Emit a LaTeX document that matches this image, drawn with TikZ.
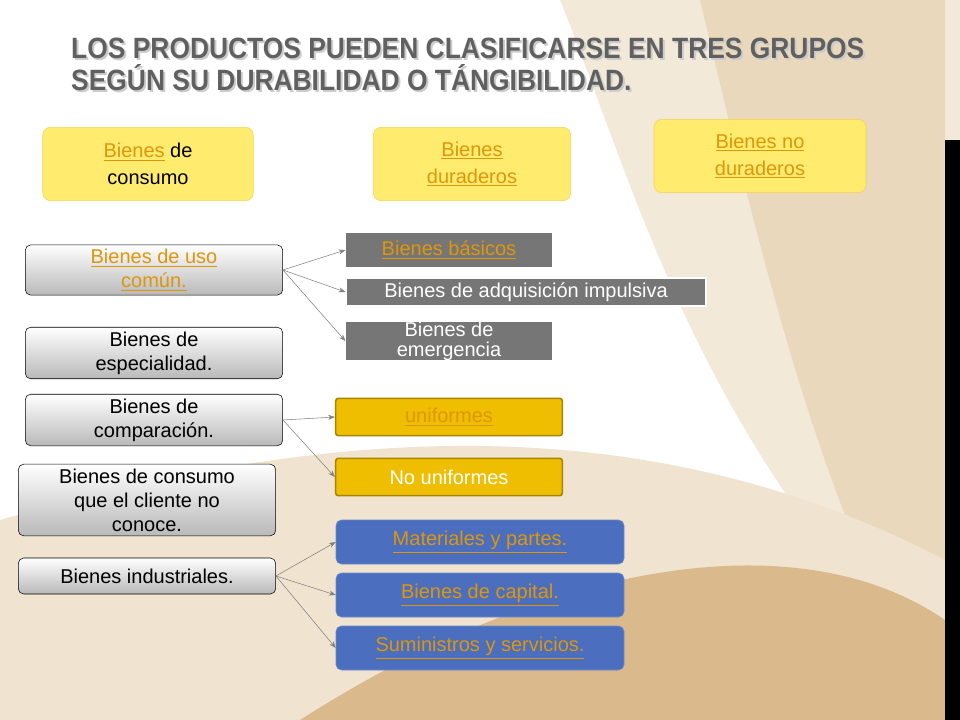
\documentclass[tikz,border=0pt]{standalone}
\usepackage{fontspec}
\setmainfont{Liberation Sans}
\usepackage{tikz}
\usetikzlibrary{positioning,arrows.meta,shadows}
\definecolor{linkc}{RGB}{222,150,10}
\definecolor{boxyel}{RGB}{255,236,110}
\definecolor{boxgold}{RGB}{240,190,0}
\definecolor{boxblue}{RGB}{75,110,190}
\definecolor{boxdark}{RGB}{118,118,118}
\definecolor{swirl}{RGB}{225,200,160}
\newcommand{\lnk}[1]{\textcolor{linkc}{\underline{#1}}}
\tikzset{
  yelbox/.style={draw=boxgold!70, fill=boxyel, rounded corners=6pt, align=center, font=\fontsize{15}{20}\selectfont},
  greybox/.style={draw=black, top color=white, bottom color=gray!55, rounded corners=4pt, align=center, font=\fontsize{15}{18}\selectfont},
  darkbox/.style={fill=boxdark, text=white, align=center, font=\fontsize{15}{18}\selectfont},
  goldbox/.style={draw=boxgold!70!black, line width=1.2pt, fill=boxgold, text=white, rounded corners=2pt, font=\fontsize{15}{18}\selectfont},
  bluebox/.style={draw=boxblue!80, fill=boxblue, rounded corners=4pt, font=\fontsize{15}{18}\selectfont},
  titletext/.style={anchor=west, align=left, xscale=0.9, font=\bfseries\fontsize{22}{24}\selectfont},
  conn/.style={gray, -{Stealth[length=5pt]}, thin}
}
\begin{document}
\begin{tikzpicture}[x=0.75pt, y=-0.75pt]
  \useasboundingbox (0,0) rectangle (960,720);
  % background swirl
  \fill[swirl!40] (560,0) .. controls (640,200) and (700,450) .. (960,700) -- (960,0) -- cycle;
  \fill[swirl!70] (700,0) .. controls (760,250) and (820,520) .. (945,720) -- (945,0) -- cycle;
  \fill[swirl!50] (0,520) .. controls (250,450) and (600,380) .. (945,560) -- (945,720) -- (0,720) -- cycle;
  \fill[swirl!80!brown] (300,720) .. controls (550,560) and (800,520) .. (945,620) -- (945,720) -- cycle;
  \fill[black] (945,140) rectangle (960,720);
  % title
  \node[titletext, text=gray!40] at (69,66) {LOS PRODUCTOS PUEDEN CLASIFICARSE EN TRES GRUPOS\\SEGÚN SU DURABILIDAD O TÁNGIBILIDAD.};
  \node[titletext, text=gray!75!black] (title) at (67,64) {LOS PRODUCTOS PUEDEN CLASIFICARSE EN TRES GRUPOS\\SEGÚN SU DURABILIDAD O TÁNGIBILIDAD.};
  % top group
  \node[yelbox, minimum width=158pt, minimum height=55pt] (consumo) at (148,164) {\lnk{Bienes} de\\consumo};
  \node[yelbox, minimum width=148pt, minimum height=55pt] (duraderos) at (472,164) {\lnk{Bienes}\\\lnk{duraderos}};
  \node[yelbox, minimum width=159pt, minimum height=55pt] (noduraderos) at (760,156) {\lnk{Bienes no}\\\lnk{duraderos}};
  % left column
  \node[greybox, minimum width=193pt, minimum height=33pt] (comun) at (154,270) {\lnk{Bienes de uso}\\\lnk{común.}};
  \node[greybox, minimum width=193pt, minimum height=33pt] (especial) at (154,353) {Bienes de\\especialidad.};
  \node[greybox, minimum width=193pt, minimum height=33pt] (compar) at (154,420) {Bienes de\\comparación.};
  \node[greybox, minimum width=193pt, minimum height=50pt] (noconoce) at (147,500) {Bienes de consumo\\que el cliente no\\conoce.};
  \node[greybox, minimum width=193pt, minimum height=27pt] (indus) at (147,576) {Bienes industriales.};
  % uso comun
  \node[darkbox, minimum width=155pt, minimum height=25pt] (basicos) at (449,250) {\lnk{Bienes básicos}};
  \node[darkbox, draw=white, line width=1pt, minimum width=270pt, minimum height=19pt] (impulsiva) at (526,292) {Bienes de adquisición impulsiva};
  \node[darkbox, minimum width=155pt, minimum height=25pt, inner ysep=0pt, font=\fontsize{15}{15}\selectfont] (emergencia) at (449,341) {Bienes de\\emergencia};
  % comparacion
  \node[goldbox, minimum width=170pt, minimum height=28pt] (unif) at (449,417) {\lnk{uniformes}};
  \node[goldbox, minimum width=170pt, minimum height=28pt] (nounif) at (449,477) {No uniformes};
  % industriales
  \node[bluebox, minimum width=216pt, minimum height=33pt] (mater) at (480,542) {\lnk{Materiales y partes.}};
  \node[bluebox, minimum width=216pt, minimum height=33pt] (capital) at (480,595) {\lnk{Bienes de capital.}};
  \node[bluebox, minimum width=216pt, minimum height=33pt] (sumin) at (480,648) {\lnk{Suministros y servicios.}};
  % connectors
  \foreach \t in {basicos, impulsiva, emergencia} \draw[conn] (comun.east) -- (\t.west);
  \foreach \t in {unif, nounif} \draw[conn] (compar.east) -- (\t.west);
  \foreach \t in {mater, capital, sumin} \draw[conn] (indus.east) -- (\t.west);
\end{tikzpicture}
\end{document}
